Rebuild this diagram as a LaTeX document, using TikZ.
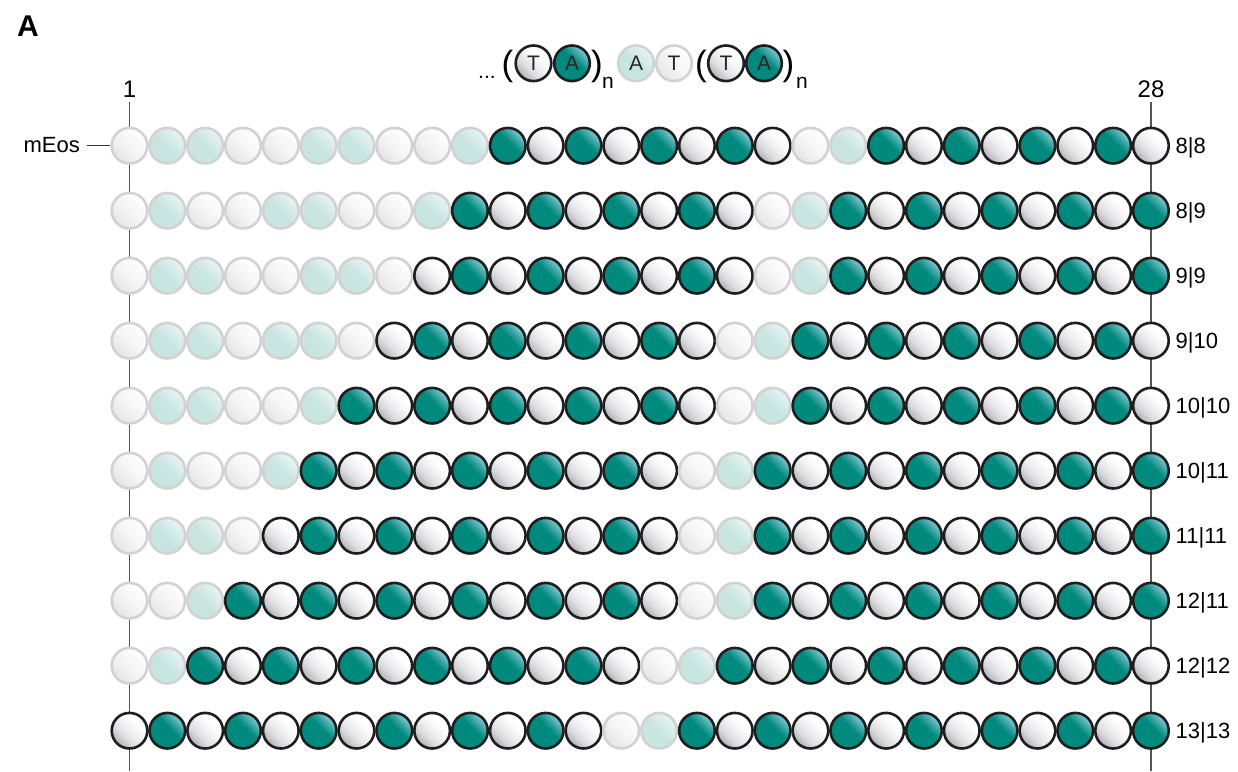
\documentclass[tikz,border=0pt]{standalone}
\usepackage{fontspec}
\setmainfont{Liberation Sans}
\definecolor{tealD}{HTML}{00897D}
\definecolor{tealM}{HTML}{3FA7A6}
\definecolor{tealL}{HTML}{86CCDA}
\definecolor{grayW}{HTML}{B0B0B8}
\definecolor{grayM}{HTML}{DEDEE2}
\definecolor{grayN}{HTML}{F1F1F2}
\definecolor{fadeW1}{HTML}{E5E5E5}
\definecolor{fadeWM}{HTML}{F4F4F4}
\definecolor{fadeW2}{HTML}{FDFDFD}
\definecolor{fadeA1}{HTML}{C9E5E2}
\definecolor{fadeA2}{HTML}{E8F4F5}
\definecolor{fadeB}{HTML}{D2D2D2}
\definecolor{boldB}{HTML}{1E1E1E}
\definecolor{lineC}{HTML}{555555}
\pgfdeclareverticalshading{tealsh}{100bp}{color(0bp)=(tealD); color(55bp)=(tealD); color(65bp)=(tealM); color(75bp)=(tealL); color(100bp)=(tealL)}
\pgfdeclareverticalshading{whitesh}{100bp}{color(0bp)=(grayW); color(25bp)=(grayW); color(39bp)=(grayM); color(51bp)=(grayN); color(65bp)=(white); color(100bp)=(white)}
\pgfdeclareverticalshading{fwhitesh}{100bp}{color(0bp)=(fadeW1); color(25bp)=(fadeW1); color(48bp)=(fadeWM); color(70bp)=(fadeW2); color(100bp)=(fadeW2)}
\pgfdeclareverticalshading{fteal}{100bp}{color(0bp)=(fadeA1); color(50bp)=(fadeA1); color(75bp)=(fadeA2); color(100bp)=(fadeA2)}
\tikzset{
  bead/.style={circle, minimum size=35.6pt, inner sep=0pt, line width=2.6pt,
    font=\fontsize{21}{24}\selectfont, text=black!85},
  beadT/.style={bead, draw=boldB, shade, shading=whitesh, shading angle=-45},
  beadA/.style={bead, draw=boldB, shade, shading=tealsh, shading angle=-45},
  beadt/.style={bead, draw=fadeB, shade, shading=fwhitesh, shading angle=-45},
  beada/.style={bead, draw=fadeB, shade, shading=fteal, shading angle=-45},
  vline/.style={draw=lineC, line width=1.4pt},
  toplbl/.style={inner sep=0pt, font=\fontsize{24}{28}\selectfont},
  rowlbl/.style={inner sep=0pt, anchor=base west, font=\fontsize{22}{26}\selectfont},
  paren/.style={inner sep=0pt, anchor=base, font=\fontsize{35}{40}\selectfont},
  subn/.style={inner sep=0pt, anchor=base, font=\fontsize{21}{24}\selectfont},
}
\newcommand\beadrow[2]{%
  \foreach \s [count=\i] in {#2} {%
    \node[bead\s] (c-#1-\i) at ({129.5+37.83*(\i-1)},{145.7+65*(#1-1)}) {};
  }%
}
\begin{document}
\begin{tikzpicture}[x=1pt,y=-1pt]
\useasboundingbox (0,0) rectangle (1238,771);
\fill[white] (0,0) rectangle (1238,771);
% panel letter
\node[inner sep=0pt, font=\fontsize{30}{34}\selectfont\bfseries] (panel) at (28,26) {A};
% axis labels and lines
\node[toplbl, anchor=base] (n1) at (129.5,97) {1};
\node[toplbl, anchor=base] (n28) at (1151,97) {28};
\coordinate (b1) at (129.5,771);
\coordinate (b28) at (1151,771);
\draw[vline, shorten <=4.7pt] (n1.south) -- (b1);
\draw[vline, shorten <=4.7pt] (n28.south) -- (b28);
% rows
\beadrow{1}{t,a,a,t,t,a,a,t,t,a,A,T,A,T,A,T,A,T,t,a,A,T,A,T,A,T,A,T}
\beadrow{2}{t,a,t,t,a,a,t,t,a,A,T,A,T,A,T,A,T,t,a,A,T,A,T,A,T,A,T,A}
\beadrow{3}{t,a,a,t,t,a,a,t,T,A,T,A,T,A,T,A,T,t,a,A,T,A,T,A,T,A,T,A}
\beadrow{4}{t,a,a,t,a,a,t,T,A,T,A,T,A,T,A,T,t,a,A,T,A,T,A,T,A,T,A,T}
\beadrow{5}{t,a,a,t,t,a,A,T,A,T,A,T,A,T,A,T,t,a,A,T,A,T,A,T,A,T,A,T}
\beadrow{6}{t,a,t,t,a,A,T,A,T,A,T,A,T,A,T,t,a,A,T,A,T,A,T,A,T,A,T,A}
\beadrow{7}{t,a,a,t,T,A,T,A,T,A,T,A,T,A,T,t,a,A,T,A,T,A,T,A,T,A,T,A}
\beadrow{8}{t,t,a,A,T,A,T,A,T,A,T,A,T,A,T,t,a,A,T,A,T,A,T,A,T,A,T,A}
\beadrow{9}{t,a,A,T,A,T,A,T,A,T,A,T,A,T,t,a,A,T,A,T,A,T,A,T,A,T,A,T}
\beadrow{10}{T,A,T,A,T,A,T,A,T,A,T,A,T,t,a,A,T,A,T,A,T,A,T,A,T,A,T,A}
% row labels
\foreach \lab [count=\r] in {8|8,8|9,9|9,9|10,10|10,10|11,11|11,12|11,12|12,13|13}{
  \node[rowlbl] (r\r) at (1175.5,{145.7+65*(\r-1)+7.6}) {\lab};
}
% mEos
\node[inner sep=0pt, anchor=base east, font=\fontsize{22}{26}\selectfont] (mEos) at (80,152.5) {mEos};
\draw[draw=black!80, line width=1.3pt] ([xshift=7pt]mEos.east |- c-1-1.west) -- (c-1-1.west);
% legend
\node[inner sep=0pt, anchor=base west, font=\fontsize{21}{24}\selectfont] (dots) at (478,78.5) {...};
\node[paren] (p1) at (507.5,75.6) {(};
\node[beadT] (l1) at (533.5,63.3) {T};
\node[beadA] (l2) at (572,63.3) {A};
\node[paren] (p2) at (597,75.6) {)};
\node[subn] (s1) at (608,88) {n};
\node[beada] (l3) at (636,63.3) {A};
\node[beadt] (l4) at (674,63.3) {T};
\node[paren] (p3) at (701,75.6) {(};
\node[beadT] (l5) at (726,63.3) {T};
\node[beadA] (l6) at (764,63.3) {A};
\node[paren] (p4) at (788.5,75.6) {)};
\node[subn] (s2) at (802,88) {n};
\end{tikzpicture}
\end{document}
